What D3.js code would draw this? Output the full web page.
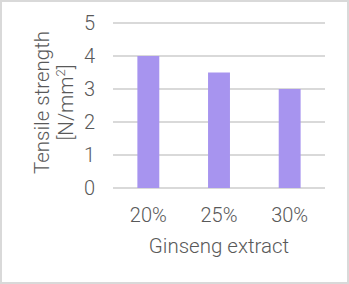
<!DOCTYPE html>
<html>
<head>
<meta charset="utf-8">
<script src="https://cdn.jsdelivr.net/npm/d3@7"></script>
<style>
  body { margin: 0; background: #fff; }
  svg text { font-family: "Roboto", "Liberation Sans", sans-serif; font-weight: 300; fill: #595959; }
</style>
</head>
<body>
<div id="chart"></div>
<script>
const categories = ["20%", "25%", "30%"];
const values = [4.0, 3.5, 3.0];
const yTicks = [0, 1, 2, 3, 4, 5];
const xTitle = "Ginseng extract";
const yTitle = "Tensile strength";
const yUnit = ["[N/mm", "2", "]"];

const W = 349, H = 284;
const margin = {top: 23, right: 24, bottom: 96, left: 113};
const width = W - margin.left - margin.right;
const height = H - margin.top - margin.bottom;

const root = d3.select("#chart").append("svg")
    .attr("width", W)
    .attr("height", H);

root.append("rect")
    .attr("x", 1).attr("y", 1)
    .attr("width", W - 2).attr("height", H - 2)
    .attr("fill", "#fff")
    .attr("stroke", "#d9d9d9")
    .attr("stroke-width", 2);

const svg = root.append("g")
    .attr("transform", `translate(${margin.left}, ${margin.top})`);

const x = d3.scaleBand()
    .domain(categories)
    .range([0, width])
    .paddingInner(0.69)
    .paddingOuter(0.345);

const y = d3.scaleLinear()
    .domain([0, 5])
    .range([height, 0]);

// gridlines
svg.append("g")
    .selectAll("line")
    .data(yTicks)
    .join("line")
    .attr("x1", 0)
    .attr("x2", width)
    .attr("y1", d => y(d))
    .attr("y2", d => y(d))
    .attr("stroke", "#d9d9d9")
    .attr("stroke-width", 2);

// y tick labels
const yAxis = svg.append("g")
    .call(d3.axisLeft(y).tickValues(yTicks).tickFormat(d3.format("d")).tickSize(0).tickPadding(18));
yAxis.select(".domain").remove();
yAxis.selectAll("text")
    .style("font-size", "20px")
    .attr("fill", "#595959");

// bars
svg.selectAll(".bar")
    .data(values)
    .join("rect")
    .attr("class", "bar")
    .attr("x", (d, i) => x(categories[i]))
    .attr("width", x.bandwidth())
    .attr("y", d => y(d))
    .attr("height", d => height - y(d))
    .attr("fill", "#a794ef");

// x tick labels
const xAxis = svg.append("g")
    .attr("transform", `translate(0, ${height})`)
    .call(d3.axisBottom(x).tickSize(0).tickPadding(20));
xAxis.select(".domain").remove();
xAxis.selectAll("text")
    .style("font-size", "20px")
    .attr("fill", "#595959");

// axis titles
svg.append("text")
    .attr("x", width / 2)
    .attr("y", height + 65)
    .attr("text-anchor", "middle")
    .style("font-size", "20.5px")
    .text(xTitle);

const yt = svg.append("text")
    .attr("transform", `translate(${-64}, ${height / 2 - 3}) rotate(-90)`)
    .attr("text-anchor", "middle")
    .style("font-size", "20.5px");
yt.append("tspan").attr("x", 0).attr("dy", 0).text(yTitle);
yt.append("tspan").attr("x", 0).attr("dy", 24).text(yUnit[0]);
yt.append("tspan").attr("dy", -8).style("font-size", "13px").text(yUnit[1]);
yt.append("tspan").attr("dy", 8).text(yUnit[2]);
</script>
</body>
</html>
